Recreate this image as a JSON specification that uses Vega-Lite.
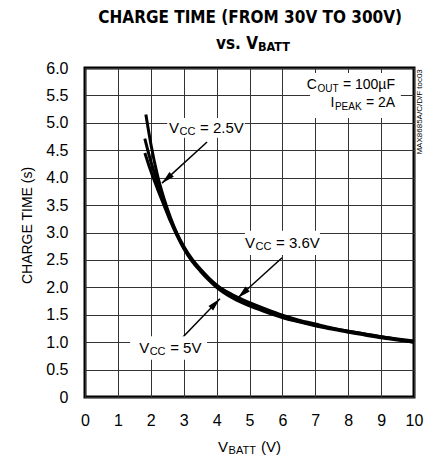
{
  "$schema": "https://vega.github.io/schema/vega-lite/v6.json",
  "width": 329,
  "height": 329,
  "autosize": {"type": "none"},
  "padding": {"left": 85, "top": 68, "right": 19, "bottom": 63},
  "background": "white",
  "config": {
    "view": {"stroke": "black", "strokeWidth": 3},
    "text": {"font": "Liberation Sans", "color": "black"},
    "axis": {
      "labelFont": "Liberation Sans",
      "titleFont": "Liberation Sans",
      "labelColor": "black", "titleColor": "black",
      "labelFontSize": 16, "titleFontSize": 14, "titleFontWeight": "normal",
      "grid": true, "gridColor": "#333", "gridWidth": 1, "gridOpacity": 1,
      "domain": false, "ticks": false, "labelOverlap": false, "labelFlush": false,
      "tickCount": 30
    },
    "axisX": {"labelPadding": 15},
    "axisY": {"labelPadding": 17}
  },
  "datasets": {
    "one": [{}],
    "curves": [
      {"vbatt": 1.85, "time": 5.15, "vcc": "2.5V"}, {"vbatt": 2.0, "time": 4.62, "vcc": "2.5V"}, {"vbatt": 2.2, "time": 4.05, "vcc": "2.5V"}, {"vbatt": 2.4, "time": 3.62, "vcc": "2.5V"}, {"vbatt": 2.6, "time": 3.27, "vcc": "2.5V"}, {"vbatt": 2.8, "time": 2.98, "vcc": "2.5V"}, {"vbatt": 3.0, "time": 2.75, "vcc": "2.5V"}, {"vbatt": 3.25, "time": 2.52, "vcc": "2.5V"}, {"vbatt": 3.5, "time": 2.34, "vcc": "2.5V"}, {"vbatt": 3.75, "time": 2.18, "vcc": "2.5V"}, {"vbatt": 4.0, "time": 2.04, "vcc": "2.5V"}, {"vbatt": 4.5, "time": 1.83, "vcc": "2.5V"}, {"vbatt": 5.0, "time": 1.68, "vcc": "2.5V"}, {"vbatt": 5.5, "time": 1.56, "vcc": "2.5V"}, {"vbatt": 6.0, "time": 1.46, "vcc": "2.5V"}, {"vbatt": 6.5, "time": 1.38, "vcc": "2.5V"}, {"vbatt": 7.0, "time": 1.31, "vcc": "2.5V"}, {"vbatt": 7.5, "time": 1.25, "vcc": "2.5V"}, {"vbatt": 8.0, "time": 1.2, "vcc": "2.5V"}, {"vbatt": 8.5, "time": 1.15, "vcc": "2.5V"}, {"vbatt": 9.0, "time": 1.1, "vcc": "2.5V"}, {"vbatt": 9.5, "time": 1.06, "vcc": "2.5V"}, {"vbatt": 10.0, "time": 1.02, "vcc": "2.5V"},
      {"vbatt": 1.82, "time": 4.71, "vcc": "3.6V"}, {"vbatt": 2.0, "time": 4.3, "vcc": "3.6V"}, {"vbatt": 2.2, "time": 3.92, "vcc": "3.6V"}, {"vbatt": 2.4, "time": 3.56, "vcc": "3.6V"}, {"vbatt": 2.6, "time": 3.24, "vcc": "3.6V"}, {"vbatt": 2.8, "time": 2.96, "vcc": "3.6V"}, {"vbatt": 3.0, "time": 2.73, "vcc": "3.6V"}, {"vbatt": 3.25, "time": 2.5, "vcc": "3.6V"}, {"vbatt": 3.5, "time": 2.32, "vcc": "3.6V"}, {"vbatt": 3.75, "time": 2.17, "vcc": "3.6V"}, {"vbatt": 4.0, "time": 2.04, "vcc": "3.6V"}, {"vbatt": 4.5, "time": 1.86, "vcc": "3.6V"}, {"vbatt": 5.0, "time": 1.72, "vcc": "3.6V"}, {"vbatt": 5.5, "time": 1.6, "vcc": "3.6V"}, {"vbatt": 6.0, "time": 1.49, "vcc": "3.6V"}, {"vbatt": 6.5, "time": 1.4, "vcc": "3.6V"}, {"vbatt": 7.0, "time": 1.33, "vcc": "3.6V"}, {"vbatt": 7.5, "time": 1.26, "vcc": "3.6V"}, {"vbatt": 8.0, "time": 1.2, "vcc": "3.6V"}, {"vbatt": 8.5, "time": 1.15, "vcc": "3.6V"}, {"vbatt": 9.0, "time": 1.1, "vcc": "3.6V"}, {"vbatt": 9.5, "time": 1.05, "vcc": "3.6V"}, {"vbatt": 10.0, "time": 1.0, "vcc": "3.6V"},
      {"vbatt": 1.82, "time": 4.45, "vcc": "5V"}, {"vbatt": 2.0, "time": 4.12, "vcc": "5V"}, {"vbatt": 2.2, "time": 3.8, "vcc": "5V"}, {"vbatt": 2.4, "time": 3.5, "vcc": "5V"}, {"vbatt": 2.6, "time": 3.2, "vcc": "5V"}, {"vbatt": 2.8, "time": 2.94, "vcc": "5V"}, {"vbatt": 3.0, "time": 2.71, "vcc": "5V"}, {"vbatt": 3.25, "time": 2.48, "vcc": "5V"}, {"vbatt": 3.5, "time": 2.3, "vcc": "5V"}, {"vbatt": 3.75, "time": 2.14, "vcc": "5V"}, {"vbatt": 4.0, "time": 2.0, "vcc": "5V"}, {"vbatt": 4.5, "time": 1.8, "vcc": "5V"}, {"vbatt": 5.0, "time": 1.66, "vcc": "5V"}, {"vbatt": 5.5, "time": 1.55, "vcc": "5V"}, {"vbatt": 6.0, "time": 1.45, "vcc": "5V"}, {"vbatt": 6.5, "time": 1.37, "vcc": "5V"}, {"vbatt": 7.0, "time": 1.3, "vcc": "5V"}, {"vbatt": 7.5, "time": 1.24, "vcc": "5V"}, {"vbatt": 8.0, "time": 1.18, "vcc": "5V"}, {"vbatt": 8.5, "time": 1.13, "vcc": "5V"}, {"vbatt": 9.0, "time": 1.08, "vcc": "5V"}, {"vbatt": 9.5, "time": 1.04, "vcc": "5V"}, {"vbatt": 10.0, "time": 1.0, "vcc": "5V"}
    ]
  },
  "layer": [
    {
      "data": {"name": "curves"},
      "mark": {"type": "line", "color": "black", "strokeWidth": 3, "interpolate": "monotone"},
      "encoding": {
        "x": {"field": "vbatt", "type": "quantitative", "scale": {"domain": [0, 10], "nice": false, "zero": false},
              "axis": {"values": [0, 1, 2, 3, 4, 5, 6, 7, 8, 9, 10], "tickCount": 30, "labelExpr": "format(datum.value, 'd')", "title": null}},
        "y": {"field": "time", "type": "quantitative", "scale": {"domain": [0, 6], "nice": false},
              "axis": {"values": [0, 0.5, 1, 1.5, 2, 2.5, 3, 3.5, 4, 4.5, 5, 5.5, 6], "tickCount": 30,
                       "labelExpr": "datum.value == 0 ? '0' : format(datum.value, '.1f')",
                       "title": "CHARGE TIME (s)", "titleAngle": 270,
                       "titleX": -58, "titleY": 157, "titleAlign": "center", "titleBaseline": "middle"}},
        "detail": {"field": "vcc", "type": "nominal"}
      }
    },
    {"data": {"name": "one"}, "mark": {"type": "rule", "color": "black", "strokeWidth": 1.5},
     "encoding": {"x": {"datum": 3.71, "type": "quantitative"}, "y": {"datum": 4.65, "type": "quantitative"}, "x2": {"datum": 2.34}, "y2": {"datum": 3.9}}},
    {"data": {"name": "one"}, "mark": {"type": "rule", "color": "black", "strokeWidth": 1.5},
     "encoding": {"x": {"datum": 5.99, "type": "quantitative"}, "y": {"datum": 2.54, "type": "quantitative"}, "x2": {"datum": 4.65}, "y2": {"datum": 1.81}}},
    {"data": {"name": "one"}, "mark": {"type": "rule", "color": "black", "strokeWidth": 1.5},
     "encoding": {"x": {"datum": 2.89, "type": "quantitative"}, "y": {"datum": 1.04, "type": "quantitative"}, "x2": {"datum": 4.1}, "y2": {"datum": 1.79}}},
    {"data": {"name": "one"}, "mark": {"type": "point", "shape": "M0,0L-0.5,2L0.5,2Z", "filled": true, "color": "black", "opacity": 1, "size": 169, "angle": 227.7, "strokeWidth": 0},
     "encoding": {"x": {"datum": 2.34, "type": "quantitative"}, "y": {"datum": 3.9, "type": "quantitative"}}},
    {"data": {"name": "one"}, "mark": {"type": "point", "shape": "M0,0L-0.5,2L0.5,2Z", "filled": true, "color": "black", "opacity": 1, "size": 169, "angle": 227.7, "strokeWidth": 0},
     "encoding": {"x": {"datum": 4.65, "type": "quantitative"}, "y": {"datum": 1.81, "type": "quantitative"}}},
    {"data": {"name": "one"}, "mark": {"type": "point", "shape": "M0,0L-0.5,2L0.5,2Z", "filled": true, "color": "black", "opacity": 1, "size": 169, "angle": 44.3, "strokeWidth": 0},
     "encoding": {"x": {"datum": 4.1, "type": "quantitative"}, "y": {"datum": 1.79, "type": "quantitative"}}},
    {"data": {"name": "one"}, "mark": {"type": "rect", "color": "white"},
     "encoding": {"x": {"datum": 2.5, "type": "quantitative"}, "x2": {"datum": 4.86}, "y": {"datum": 4.73, "type": "quantitative"}, "y2": {"datum": 5.09}}},
    {"data": {"name": "one"}, "mark": {"type": "rect", "color": "white"},
     "encoding": {"x": {"datum": 4.86, "type": "quantitative"}, "x2": {"datum": 7.14}, "y": {"datum": 2.59, "type": "quantitative"}, "y2": {"datum": 3.03}}},
    {"data": {"name": "one"}, "mark": {"type": "rect", "color": "white"},
     "encoding": {"x": {"datum": 1.37, "type": "quantitative"}, "x2": {"datum": 3.71}, "y": {"datum": 0.68, "type": "quantitative"}, "y2": {"datum": 1.11}}},
    {"data": {"name": "one"}, "mark": {"type": "rect", "color": "white"},
     "encoding": {"x": {"datum": 6.84, "type": "quantitative"}, "x2": {"datum": 9.6}, "y": {"datum": 5.09, "type": "quantitative"}, "y2": {"datum": 5.91}}},

    {"data": {"name": "one"}, "mark": {"type": "text", "align": "right", "baseline": "middle", "fontSize": 15},
     "encoding": {"x": {"datum": 2.86, "type": "quantitative"}, "y": {"datum": 4.91, "type": "quantitative"}, "text": {"value": "V"}}},
    {"data": {"name": "one"}, "mark": {"type": "text", "align": "left", "baseline": "middle", "fontSize": 11, "dx": 0.5, "dy": 4},
     "encoding": {"x": {"datum": 2.86, "type": "quantitative"}, "y": {"datum": 4.91, "type": "quantitative"}, "text": {"value": "CC"}}},
    {"data": {"name": "one"}, "mark": {"type": "text", "align": "left", "baseline": "middle", "fontSize": 15, "dx": 21},
     "encoding": {"x": {"datum": 2.86, "type": "quantitative"}, "y": {"datum": 4.91, "type": "quantitative"}, "text": {"value": "= 2.5V"}}},

    {"data": {"name": "one"}, "mark": {"type": "text", "align": "right", "baseline": "middle", "fontSize": 15},
     "encoding": {"x": {"datum": 5.17, "type": "quantitative"}, "y": {"datum": 2.81, "type": "quantitative"}, "text": {"value": "V"}}},
    {"data": {"name": "one"}, "mark": {"type": "text", "align": "left", "baseline": "middle", "fontSize": 11, "dx": 0.5, "dy": 4},
     "encoding": {"x": {"datum": 5.17, "type": "quantitative"}, "y": {"datum": 2.81, "type": "quantitative"}, "text": {"value": "CC"}}},
    {"data": {"name": "one"}, "mark": {"type": "text", "align": "left", "baseline": "middle", "fontSize": 15, "dx": 21},
     "encoding": {"x": {"datum": 5.17, "type": "quantitative"}, "y": {"datum": 2.81, "type": "quantitative"}, "text": {"value": "= 3.6V"}}},

    {"data": {"name": "one"}, "mark": {"type": "text", "align": "right", "baseline": "middle", "fontSize": 15},
     "encoding": {"x": {"datum": 1.95, "type": "quantitative"}, "y": {"datum": 0.89, "type": "quantitative"}, "text": {"value": "V"}}},
    {"data": {"name": "one"}, "mark": {"type": "text", "align": "left", "baseline": "middle", "fontSize": 11, "dx": 0.5, "dy": 4},
     "encoding": {"x": {"datum": 1.95, "type": "quantitative"}, "y": {"datum": 0.89, "type": "quantitative"}, "text": {"value": "CC"}}},
    {"data": {"name": "one"}, "mark": {"type": "text", "align": "left", "baseline": "middle", "fontSize": 15, "dx": 21},
     "encoding": {"x": {"datum": 1.95, "type": "quantitative"}, "y": {"datum": 0.89, "type": "quantitative"}, "text": {"value": "= 5V"}}},

    {"data": {"name": "one"}, "mark": {"type": "text", "align": "right", "baseline": "middle", "fontSize": 14},
     "encoding": {"x": {"datum": 7.05, "type": "quantitative"}, "y": {"datum": 5.69, "type": "quantitative"}, "text": {"value": "C"}}},
    {"data": {"name": "one"}, "mark": {"type": "text", "align": "left", "baseline": "middle", "fontSize": 10, "dx": 0.5, "dy": 4},
     "encoding": {"x": {"datum": 7.05, "type": "quantitative"}, "y": {"datum": 5.69, "type": "quantitative"}, "text": {"value": "OUT"}}},
    {"data": {"name": "one"}, "mark": {"type": "text", "align": "left", "baseline": "middle", "fontSize": 14, "dx": 26},
     "encoding": {"x": {"datum": 7.05, "type": "quantitative"}, "y": {"datum": 5.69, "type": "quantitative"}, "text": {"value": "= 100µF"}}},

    {"data": {"name": "one"}, "mark": {"type": "text", "align": "right", "baseline": "middle", "fontSize": 14},
     "encoding": {"x": {"datum": 7.58, "type": "quantitative"}, "y": {"datum": 5.36, "type": "quantitative"}, "text": {"value": "I"}}},
    {"data": {"name": "one"}, "mark": {"type": "text", "align": "left", "baseline": "middle", "fontSize": 10, "dx": 0.5, "dy": 4},
     "encoding": {"x": {"datum": 7.58, "type": "quantitative"}, "y": {"datum": 5.36, "type": "quantitative"}, "text": {"value": "PEAK"}}},
    {"data": {"name": "one"}, "mark": {"type": "text", "align": "left", "baseline": "middle", "fontSize": 14, "dx": 31.5},
     "encoding": {"x": {"datum": 7.58, "type": "quantitative"}, "y": {"datum": 5.36, "type": "quantitative"}, "text": {"value": "= 2A"}}},

    {"data": {"name": "one"}, "mark": {"type": "text", "align": "right", "baseline": "middle", "fontSize": 15},
     "encoding": {"x": {"datum": 4.35, "type": "quantitative"}, "y": {"datum": -0.91, "type": "quantitative"}, "text": {"value": "V"}}},
    {"data": {"name": "one"}, "mark": {"type": "text", "align": "left", "baseline": "middle", "fontSize": 11, "dx": 0.5, "dy": 4},
     "encoding": {"x": {"datum": 4.35, "type": "quantitative"}, "y": {"datum": -0.91, "type": "quantitative"}, "text": {"value": "BATT"}}},
    {"data": {"name": "one"}, "mark": {"type": "text", "align": "left", "baseline": "middle", "fontSize": 15, "dx": 33},
     "encoding": {"x": {"datum": 4.35, "type": "quantitative"}, "y": {"datum": -0.91, "type": "quantitative"}, "text": {"value": "(V)"}}},

    {"data": {"name": "one"}, "mark": {"type": "text", "align": "center", "baseline": "middle", "fontSize": 17, "fontWeight": "bold", "font": "DejaVu Sans Condensed"},
     "encoding": {"x": {"datum": 5.02, "type": "quantitative"}, "y": {"datum": 6.91, "type": "quantitative"}, "text": {"value": "CHARGE TIME (FROM 30V TO 300V)"}}},
    {"data": {"name": "one"}, "mark": {"type": "text", "align": "right", "baseline": "middle", "fontSize": 17, "fontWeight": "bold", "font": "DejaVu Sans Condensed"},
     "encoding": {"x": {"datum": 5.26, "type": "quantitative"}, "y": {"datum": 6.44, "type": "quantitative"}, "text": {"value": "vs. V"}}},
    {"data": {"name": "one"}, "mark": {"type": "text", "align": "left", "baseline": "middle", "fontSize": 12.5, "fontWeight": "bold", "dx": 0, "dy": 3, "font": "DejaVu Sans Condensed"},
     "encoding": {"x": {"datum": 5.26, "type": "quantitative"}, "y": {"datum": 6.44, "type": "quantitative"}, "text": {"value": "BATT"}}},

    {"data": {"name": "one"}, "mark": {"type": "text", "align": "center", "baseline": "middle", "fontSize": 8, "angle": 270},
     "encoding": {"x": {"datum": 10.18, "type": "quantitative"}, "y": {"datum": 5.2, "type": "quantitative"}, "text": {"value": "MAX8685A/C/D/F toc03"}}}
  ]
}
